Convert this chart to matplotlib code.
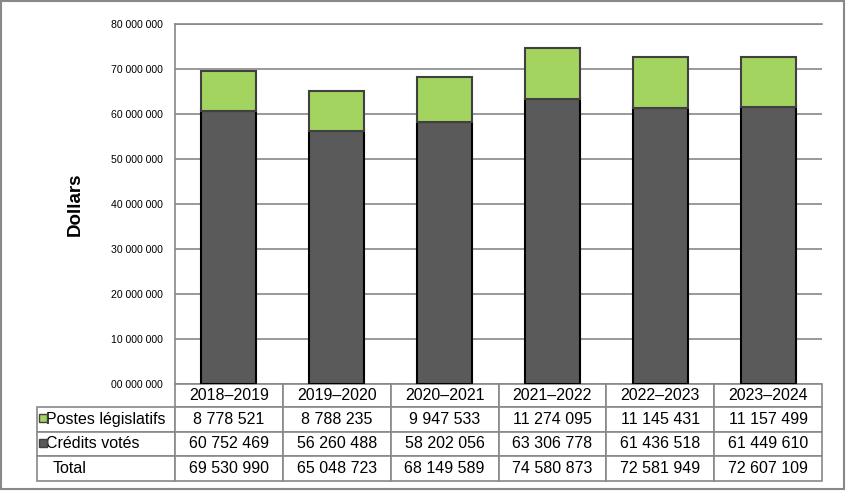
import numpy as np
import matplotlib
matplotlib.use("Agg")
import matplotlib.pyplot as plt
from matplotlib.table import Table
from matplotlib.patches import Rectangle
from matplotlib.ticker import FuncFormatter

plt.rcParams['font.family'] = ['Liberation Sans', 'DejaVu Sans']

# Data
years = ['2018–2019', '2019–2020', '2020–2021', '2021–2022', '2022–2023', '2023–2024']
postes_legislatifs = [8778521, 8788235, 9947533, 11274095, 11145431, 11157499]
credits_votes = [60752469, 56260488, 58202056, 63306778, 61436518, 61449610]
totals = [69530990, 65048723, 68149589, 74580873, 72581949, 72607109]
row_names = ['Postes législatifs', 'Crédits votés', 'Total']

green = '#a3d45f'
dark = '#5a5a5a'
grid_col = '#888888'

W, H = 846, 492
fig = plt.figure(figsize=(W / 100, H / 100), dpi=100)

# plot area in pixels
left, right, top, bottom = 175, 822, 24, 384
ax = fig.add_axes([left / W, 1 - bottom / H, (right - left) / W, (bottom - top) / H])

x = np.arange(len(years))
ax.bar(x, credits_votes, width=0.51, color=dark, edgecolor='black', linewidth=1.5, zorder=3)
ax.bar(x, postes_legislatifs, width=0.51, bottom=credits_votes, color=green,
       edgecolor='#404040', linewidth=1.5, zorder=3)

ax.set_xlim(-0.5, len(years) - 0.5)
ax.set_ylim(0, 80000000)
ax.set_yticks(np.arange(0, 80000001, 10000000))
ax.yaxis.set_major_formatter(FuncFormatter(lambda v, p: format(int(v), '010,d').replace(',', ' ')))
ax.tick_params(axis='y', length=0, pad=9, labelsize=7.6)
ax.set_xticks([])
ax.grid(axis='y', color=grid_col, linewidth=1.2, zorder=0)
ax.set_axisbelow(True)
for s in ['right', 'bottom']:
    ax.spines[s].set_visible(False)
ax.spines['left'].set_color(grid_col)
ax.spines['left'].set_linewidth(1.2)
ax.spines['top'].set_color(grid_col)
ax.spines['top'].set_linewidth(1.2)

ax.set_ylabel('Dollars', fontsize=13.5, fontweight='bold', labelpad=19)

# table under the plot (pixel layout)
tab_left = 37
row_edges = [384, 407, 431.5, 456, 480.5]
label_w = left - tab_left
col_w = (right - left) / len(years)
plot_h = bottom - top
tb = Table(ax, bbox=[(tab_left - left) / (right - left), -(row_edges[-1] - bottom) / plot_h,
                     (right - tab_left) / (right - left), (row_edges[-1] - bottom) / plot_h])
heights = np.diff(row_edges)
for j, yr in enumerate(years):
    tb.add_cell(0, j + 1, width=col_w, height=heights[0], text=yr, loc='center')
rows = [postes_legislatifs, credits_votes, totals]
for i, (name, vals) in enumerate(zip(row_names, rows)):
    c = tb.add_cell(i + 1, 0, width=label_w, height=heights[i + 1], text=name, loc='left')
    c.PAD = 0.062 if i < 2 else 0.11
    for j, v in enumerate(vals):
        tb.add_cell(i + 1, j + 1, width=col_w, height=heights[i + 1],
                    text=format(v, ',d').replace(',', ' '), loc='center')
tb.auto_set_font_size(False)
tb.set_fontsize(11.5)
for cell in tb.get_celld().values():
    cell.set_edgecolor(grid_col)
    cell.set_linewidth(1.2)
ax.add_table(tb)

# legend keys in the row labels
for i, col in enumerate([green, dark]):
    yc = (row_edges[i + 1] + row_edges[i + 2]) / 2 - 1
    fig.add_artist(Rectangle((38.5 / W, 1 - (yc + 4) / H), 8 / W, 8 / H,
                             transform=fig.transFigure, facecolor=col,
                             edgecolor='#404040', linewidth=1.0))

# outer chart border
fig.add_artist(Rectangle((1 / W, 3 / H), 843 / W, 488 / H, transform=fig.transFigure,
                         fill=False, edgecolor=grid_col, linewidth=1.5))

fig.savefig('out.png', dpi=100)
